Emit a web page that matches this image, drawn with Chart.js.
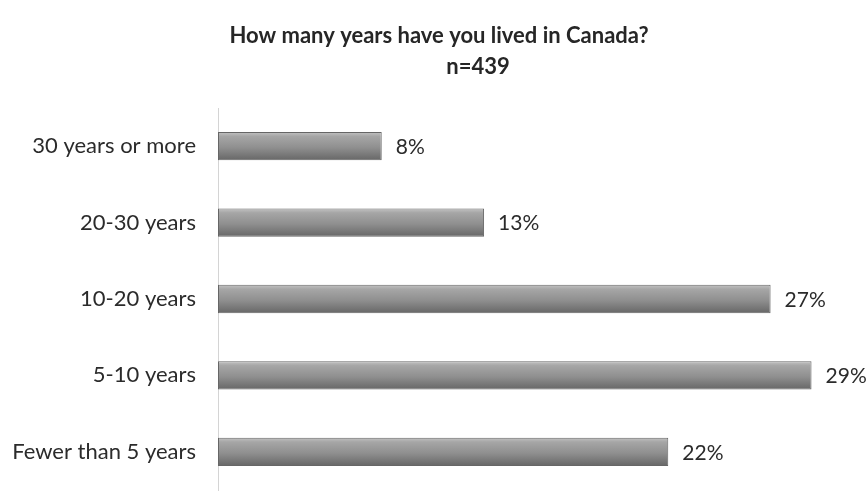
<!DOCTYPE html>
<html>
<head>
<meta charset="utf-8">
<script src="https://cdn.jsdelivr.net/npm/chart.js@4/dist/chart.umd.min.js"></script>
<style>
  html, body { margin: 0; padding: 0; background: #ffffff; }
  #wrap { width: 868px; height: 492px; position: relative; }
</style>
</head>
<body>
<div id="wrap"><canvas id="c"></canvas></div>
<script>
const titleLines = ['How many years have you lived in Canada?', 'n=439'];
const categories = ['30 years or more', '20-30 years', '10-20 years', '5-10 years', 'Fewer than 5 years'];
const percentValues = [8, 13, 27, 29, 22];

const FONT = 'Lato, "Open Sans", sans-serif';

function barGradient(context) {
  const chart = context.chart;
  const yScale = chart.scales.y;
  if (!yScale || context.dataIndex === undefined) return '#8c8c8c';
  const cy = yScale.getPixelForValue(context.dataIndex);
  if (!isFinite(cy)) return '#8c8c8c';
  const half = 14;
  const g = chart.ctx.createLinearGradient(0, cy - half, 0, cy + half);
  g.addColorStop(0, '#c2c2c2');
  g.addColorStop(0.15, '#a6a6a6');
  g.addColorStop(0.55, '#8f8f8f');
  g.addColorStop(1, '#676767');
  return g;
}

const titlePlugin = {
  id: 'twoLineTitle',
  afterDraw(chart) {
    const ctx = chart.ctx;
    ctx.save();
    ctx.fillStyle = '#262626';
    ctx.font = 'bold 22px ' + FONT;
    ctx.textAlign = 'center';
    ctx.textBaseline = 'middle';
    ctx.fillText(titleLines[0], 439, 36);
    ctx.fillText(titleLines[1], 478, 67);
    ctx.restore();
  }
};

const valueLabelPlugin = {
  id: 'valueLabels',
  afterDatasetsDraw(chart) {
    const ctx = chart.ctx;
    const meta = chart.getDatasetMeta(0);
    ctx.save();
    ctx.fillStyle = '#2b2b2b';
    ctx.font = '21px ' + FONT;
    ctx.textAlign = 'left';
    ctx.textBaseline = 'middle';
    meta.data.forEach((el, i) => {
      ctx.fillText(percentValues[i] + '%', el.x + 14, el.y + 1);
    });
    ctx.restore();
  }
};

new Chart(document.getElementById('c'), {
  type: 'bar',
  data: {
    labels: categories,
    datasets: [{
      data: percentValues,
      backgroundColor: barGradient,
      borderColor: '#666666',
      borderWidth: 1,
      borderSkipped: false,
      categoryPercentage: 1.0,
      barPercentage: 0.37
    }]
  },
  options: {
    indexAxis: 'y',
    responsive: true,
    maintainAspectRatio: false,
    animation: false,
    devicePixelRatio: 1,
    layout: { padding: { top: 108, right: 36, bottom: 2, left: 0 } },
    plugins: {
      legend: { display: false },
      title: { display: false },
      tooltip: { enabled: false }
    },
    scales: {
      x: {
        display: false,
        min: 0,
        max: 30
      },
      y: {
        afterFit(scale) {
          scale.width = 218;
          scale.paddingTop = 0;
          scale.paddingBottom = 0;
        },
        grid: { display: false, drawTicks: false },
        border: { display: true, color: '#d4d4d4', width: 1 },
        ticks: {
          color: '#2b2b2b',
          font: { family: FONT, size: 22 },
          padding: 22
        }
      }
    }
  },
  plugins: [titlePlugin, valueLabelPlugin]
});
</script>
</body>
</html>
